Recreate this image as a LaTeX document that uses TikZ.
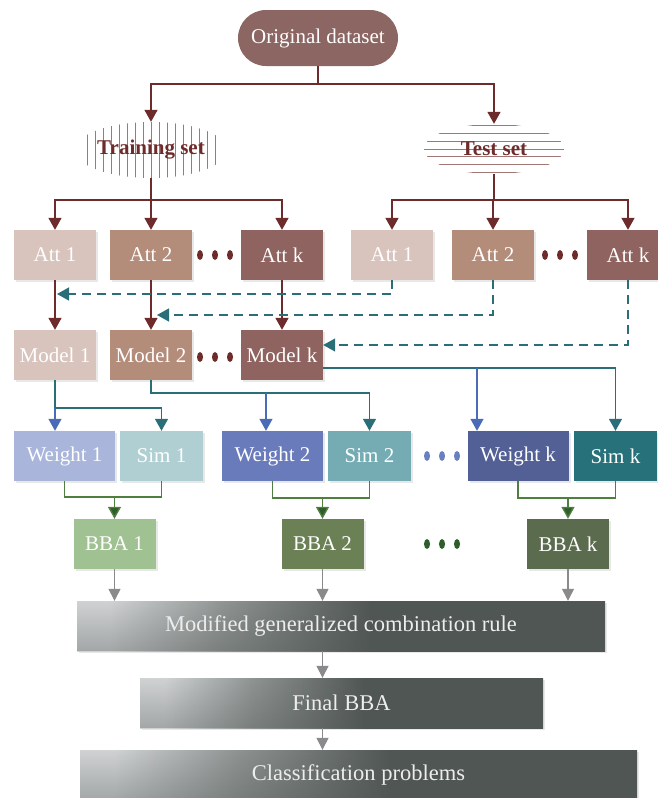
\documentclass[tikz,border=0pt]{standalone}
\usepackage{fontspec}
\setmainfont{Liberation Serif}
\usetikzlibrary{arrows.meta, positioning, shapes.geometric, shadows, fadings}

\definecolor{rosebox}{HTML}{8B6662}
\definecolor{attA}{HTML}{D8C4BD}
\definecolor{attB}{HTML}{B48C7A}
\definecolor{attC}{HTML}{8F6460}
\definecolor{wine}{HTML}{6E2B2B}
\definecolor{hatch}{HTML}{A07774}
\definecolor{tealdk}{HTML}{2A6F78}
\definecolor{wgtA}{HTML}{A9B5DA}
\definecolor{wgtB}{HTML}{6A7BBB}
\definecolor{wgtC}{HTML}{526096}
\definecolor{simA}{HTML}{B0CFD3}
\definecolor{simB}{HTML}{75ACB4}
\definecolor{simC}{HTML}{27727A}
\definecolor{bluelink}{HTML}{4A6BB5}
\definecolor{bluedot}{HTML}{6A80C0}
\definecolor{bbaA}{HTML}{A0C191}
\definecolor{bbaB}{HTML}{6B8055}
\definecolor{bbaC}{HTML}{5B6B4D}
\definecolor{greenlink}{HTML}{4F7F3F}
\definecolor{greendk}{HTML}{2E5E2A}
\definecolor{greylink}{HTML}{8A8A8C}
\definecolor{shadeL}{HTML}{D0D2D3}
\definecolor{shadeM}{HTML}{8F9493}
\definecolor{shadeR}{HTML}{505654}

\pgfdeclarehorizontalshading{stageshade}{100bp}{color(0bp)=(shadeL); color(28bp)=(shadeL); color(39bp)=(shadeM); color(53bp)=(shadeR); color(100bp)=(shadeR)}

\begin{document}
\begin{tikzpicture}[
        x=1pt, y=-1pt,
        box/.style={rectangle, minimum height=50pt, inner sep=0pt, text=white, font=\fontsize{21}{24}\selectfont, drop shadow={shadow xshift=2pt, shadow yshift=-2pt, opacity=0.18}},
        attbox/.style={box, minimum width=82pt},
        wgtbox/.style={box, minimum width=101pt},
        simbox/.style={box, minimum width=83pt},
        bbabox/.style={box, minimum width=82pt},
        stagebox/.style={box, text=white!93!black, font=\fontsize{22.5}{26}\selectfont, shading=stageshade,
            path picture={\fill[shadeR, opacity=0.35, path fading=north] (path picture bounding box.south west) rectangle (path picture bounding box.north east);}},
        subset/.style={ellipse, inner sep=0pt, text=wine, font=\fontsize{21}{24}\selectfont\bfseries},
        vhatch/.style={path picture={\foreach \i in {-8,...,8} \draw[hatch, line width=0.9pt] ([xshift=\i*8pt]path picture bounding box.north) -- ([xshift=\i*8pt]path picture bounding box.south);}},
        hhatch/.style={path picture={\foreach \i in {-3,...,3} \draw[hatch, line width=0.9pt] ([yshift=\i*7.7pt]path picture bounding box.west) -- ([yshift=\i*7.7pt]path picture bounding box.east);}},
        tip/.style={-{Triangle[width=13pt, length=12pt]}},
        wineline/.style={draw=wine, line width=1.6pt},
        winearrow/.style={wineline, tip},
        tealdash/.style={draw=tealdk, line width=1.4pt, dash pattern=on 9pt off 6pt, tip},
        tealline/.style={draw=tealdk, line width=1.4pt},
        tealarrow/.style={tealline, tip},
        bluearrow/.style={draw=bluelink, line width=1.4pt, tip},
        greenline/.style={draw=greenlink, line width=1.4pt},
        greenarrow/.style={greenline, -{Triangle[width=13pt, length=12pt, fill=greendk]}},
        greyarrow/.style={draw=greylink, line width=1.3pt, -{Triangle[width=12pt, length=12pt]}}
    ]
        \useasboundingbox (0,0) rectangle (658,798);

        % dataset and its two parts
        \node[rectangle, rounded corners=28pt, fill=rosebox, minimum width=160pt, minimum height=56pt, text=white, font=\fontsize{21}{24}\selectfont] (orig) at (318,38) {Original dataset};
        \node[subset, vhatch, minimum width=134pt, minimum height=56pt] (train) at (151,150) {Training set};
        \node[subset, hhatch, minimum width=140pt, minimum height=50pt] (test) at (494,149) {Test set};

        % attributes
        \node[attbox, fill=attA] (trAtt1) at (55,255) {Att 1};
        \node[attbox, fill=attB] (trAtt2) at (151,255) {Att 2};
        \node[attbox, fill=attC] (trAttk) at (282,255) {Att k};
        \node[attbox, fill=attA] (teAtt1) at (392,255) {Att 1};
        \node[attbox, fill=attB] (teAtt2) at (493,255) {Att 2};
        \node[attbox, fill=attC] (teAttk) at (628,255) {Att k};

        % models
        \node[attbox, fill=attA] (trModel1) at (55,355) {Model 1};
        \node[attbox, fill=attB] (trModel2) at (151,355) {Model 2};
        \node[attbox, fill=attC] (trModelk) at (282,355) {Model k};

        % weights and similarities
        \node[wgtbox, fill=wgtA] (wgt1) at (64.5,456) {Weight 1};
        \node[simbox, fill=simA] (sim1) at (161.5,456) {Sim 1};
        \node[wgtbox, fill=wgtB] (wgt2) at (272.5,456) {Weight 2};
        \node[simbox, fill=simB] (sim2) at (369.5,456) {Sim 2};
        \node[wgtbox, fill=wgtC] (wgtk) at (518,456) {Weight k};
        \node[simbox, fill=simC] (simk) at (615.5,456) {Sim k};

        % basic belief assignments
        \node[bbabox, fill=bbaA] (bba1) at (114.5,544) {BBA 1};
        \node[bbabox, fill=bbaB] (bba2) at (322.5,544) {BBA 2};
        \node[bbabox, fill=bbaC] (bbak) at (568,544) {BBA k};

        % fusion stages
        \node[stagebox, minimum width=528pt] (mod) at (341,626) {Modified generalized combination rule};
        \node[stagebox, minimum width=403pt] (final) at (341.5,703) {Final BBA};
        \node[stagebox, minimum width=557pt] (cls) at (358.5,775) {Classification problems};

        % ellipsis dots
        \foreach \x in {200,215,230} {
            \fill[wine] (\x,255) ellipse (3pt and 5pt);
            \fill[wine] (\x,357) ellipse (3pt and 5pt);
        }
        \foreach \x in {545,560,575}
            \fill[wine] (\x,255) ellipse (3pt and 5pt);
        \foreach \x in {427,442,457} {
            \fill[bluedot] (\x,456) ellipse (3pt and 5pt);
            \fill[greendk] (\x,544) ellipse (3pt and 5pt);
        }

        % splitting the data
        \coordinate (j0) at (318,84);
        \draw[wineline] (orig) -- (j0);
        \draw[winearrow] (j0) -| (train);
        \draw[winearrow] (j0) -| (test);

        \coordinate (j1) at (151,200);
        \draw[wineline] (train) -- (j1);
        \draw[winearrow] (j1) -| (trAtt1);
        \draw[winearrow] (j1) -- (trAtt2);
        \draw[winearrow] (j1) -| (trAttk);

        \coordinate (j2) at (494,200);
        \draw[wineline] (test) -- (j2);
        \draw[winearrow] (j2) -| (teAtt1);
        \draw[winearrow] (j2) -| (teAtt2);
        \draw[winearrow] (j2) -| (teAttk);

        \draw[winearrow] (trAtt1) -- (trModel1);
        \draw[winearrow] (trAtt2) -- (trModel2);
        \draw[winearrow] (trAttk) -- (trModelk);

        % test attributes fed to the models
        \coordinate (d1) at (57,294);
        \coordinate (d2) at (157,315);
        \draw[tealdash] (teAtt1) |- (d1);
        \draw[tealdash] (teAtt2) |- (d2);
        \draw[tealdash] (teAttk) |- ([yshift=10pt]trModelk.east);

        % models to weights and similarities
        \coordinate (m1) at (55,408);
        \draw[tealline] (trModel1) -- (m1);
        \draw[bluearrow] (m1) -- (m1 |- wgt1.north);
        \draw[tealarrow] (m1) -| (sim1);

        \coordinate (m2) at (266,393);
        \draw[tealarrow] (trModel2) |- (m2) -| (sim2);
        \draw[bluearrow] (m2) -- (m2 |- wgt2.north);

        \coordinate (mk) at (477,368);
        \draw[tealarrow] ([yshift=-13pt]trModelk.east) -- (mk) -| (simk);
        \draw[bluearrow] (mk) -- (mk |- wgtk.north);

        % weights and similarities to BBAs
        \coordinate (g1) at (114.5,497);
        \coordinate (g2) at (322.5,498);
        \coordinate (gk) at (568,498);
        \draw[greenline] (wgt1) |- (g1) -| (sim1);
        \draw[greenline] (wgt2) |- (g2) -| (sim2);
        \draw[greenline] (wgtk) |- (gk) -| (simk);
        \draw[greenarrow] (g1) -- (bba1);
        \draw[greenarrow] (g2) -- (bba2);
        \draw[greenarrow] (gk) -- (bbak);

        % fusion
        \draw[greyarrow] (bba1) -- (bba1 |- mod.north);
        \draw[greyarrow] (bba2) -- (bba2 |- mod.north);
        \draw[greyarrow] (bbak) -- (bbak |- mod.north);
        \draw[greyarrow] (bba2.south |- mod.south) -- (bba2.south |- final.north);
        \draw[greyarrow] (bba2.south |- final.south) -- (bba2.south |- cls.north);

    \end{tikzpicture}
\end{document}
